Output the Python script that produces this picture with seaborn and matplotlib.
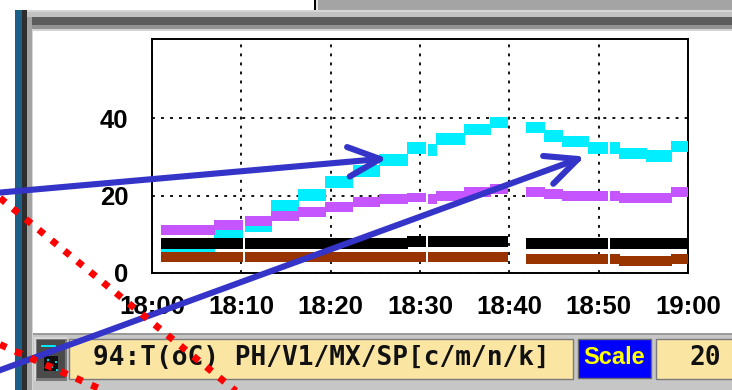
import numpy as np
import pandas as pd
import matplotlib
matplotlib.use("Agg")
import matplotlib.pyplot as plt
from matplotlib.patches import Rectangle
import seaborn as sns

# Step intervals in minutes after 18:00, shared by the four traces
seg_start = [1.1, 7.0, 10.5, 13.4, 16.4, 19.4, 22.5, 25.5, 28.6, 30.9, 31.8, 35.0, 37.9,
             41.9, 43.9, 46.0, 48.9, 51.3, 52.3, 55.3, 58.2]
seg_end = [7.0, 10.1, 13.4, 16.4, 19.4, 22.5, 25.5, 28.6, 30.6, 31.8, 35.0, 37.9, 39.8,
           43.9, 46.0, 48.9, 51.0, 52.3, 55.3, 58.2, 60.0]

# Trace values per interval (T in oC)
ph = [6.5, 9.5, 12.0, 17.4, 20.1, 23.5, 26.3, 29.2, 32.2, 31.8, 34.6, 37.0, 38.9,
      37.5, 35.3, 34.0, 32.2, 32.3, 30.8, 30.2, 32.7]
v1 = [11.1, 12.3, 13.4, 14.6, 15.8, 17.0, 18.4, 19.0, 19.5, 19.1, 19.9, 20.8, 21.6,
      20.9, 20.5, 19.9, 19.9, 19.9, 19.4, 19.4, 20.9]
sp = [7.7, 7.7, 7.7, 7.7, 7.7, 7.7, 7.7, 7.7, 8.1, 8.1, 8.1, 8.1, 8.1,
      7.6, 7.6, 7.6, 7.6, 7.6, 7.6, 7.6, 7.6]
mx = [4.2, 4.2, 4.2, 4.2, 4.2, 4.2, 4.2, 4.2, 4.2, 4.2, 4.2, 4.2, 4.2,
      3.5, 3.5, 3.5, 3.5, 3.5, 3.0, 3.0, 3.5]

x_ticks = [0, 10, 20, 30, 40, 50, 60]
x_tick_labels = ["18:00", "18:10", "18:20", "18:30", "18:40", "18:50", "19:00"]
y_ticks = [0, 20, 40]
y_tick_labels = ["0", "20", "40"]

legend_text = "94:T(oC) PH/V1/MX/SP[c/m/n/k]"
scale_label = "Scale"
scale_value = "20"

# drawing order: cyan under magenta and black
series = [("PH", ph, "#00eeff", 7.6),
          ("V1", v1, "#c455ff", 6.4),
          ("SP", sp, "#000000", 7.0),
          ("MX", mx, "#993300", 6.4)]

rows = []
for name, vals, _, _ in series:
    for i, (t0, t1, v) in enumerate(zip(seg_start, seg_end, vals)):
        rows.append({"trace": name, "seg": i, "t": t0, "v": v})
        rows.append({"trace": name, "seg": i, "t": t1, "v": v})
df = pd.DataFrame(rows)

sns.set_theme(style="white")
plt.rcParams["font.family"] = ["Liberation Sans", "DejaVu Sans"]

W, H = 732, 390
fig = plt.figure(figsize=(W / 100, H / 100), dpi=100)

# ---- window frame and status bar (pixel coordinates, y downward) ----
bg = fig.add_axes([0, 0, 1, 1], label="frame", zorder=0)
bg.set_xlim(0, W)
bg.set_ylim(H, 0)
bg.axis("off")

def box(x0, y0, x1, y1, fc, ec="none", lw=0, z=1):
    bg.add_patch(Rectangle((x0, y0), x1 - x0, y1 - y0, facecolor=fc,
                           edgecolor=ec, linewidth=lw, zorder=z))

box(0, 0, W, H, "white", z=0)
box(317, 0, W, 9.5, "#a4a4a4")
box(316, 0, 317.5, 9.5, "#e4e4e4")
box(314, 0, 316, 9.5, "#000000")
# top frame stripes
box(21, 9.5, W, 12, "#d6d6d6")
box(21, 12, W, 17, "#c2c2c2")
box(21, 17, W, 25, "#5c5c5c")
box(21, 25, W, 28.5, "#929292")
box(27, 28.5, W, 31, "#d2d2d2")
# left frame stripes
box(15, 9.5, 21.7, H, "#1c6088", z=2)
box(21.7, 9.5, 26.7, H, "#2e2e2e", z=2)
box(26.7, 17, 31.5, H, "#a2a2a2", z=2)
box(31.5, 28.5, 33, H, "#d6d6d6", z=2)
# status bar
box(33, 333, W, H, "#c6c6c6")
box(33, 333, W, 335, "#9a9a9a")
# button with icon
box(33.5, 337, 67, 381, "#d8d8d8")
box(35.5, 339, 67, 381, "#7a7a7a")
box(36.5, 340, 64.5, 378, "#4a4a4a")
box(41, 344.5, 56, 347, "#00e6ff")
box(44, 356, 58, 371, "#101010")
for cx, cy in [(47, 359), (55, 361), (51, 366), (56, 369)]:
    box(cx, cy, cx + 2, cy + 2, "#00d0e0")
# text fields
box(68.5, 338.5, 572.5, 378.5, "#fbe5a3", ec="#7a7a7a", lw=1.0)
box(577.5, 339, 651, 377.5, "#0000ff", ec="#6a6a6a", lw=1.0)
box(656, 338.5, W + 2, 378.5, "#fbe5a3", ec="#7a7a7a", lw=1.0)
bg.text(93, 358, legend_text, ha="left", va="center", color="#111111",
        fontfamily="DejaVu Sans Mono", fontweight="bold", fontsize=18.8, zorder=5)
bg.text(614, 357.5, scale_label, ha="center", va="center", color="#ffff00",
        fontfamily="Liberation Sans", fontweight="bold", fontsize=17, zorder=5)
bg.text(721, 358, scale_value, ha="right", va="center", color="#111111",
        fontfamily="DejaVu Sans Mono", fontweight="bold", fontsize=18.8, zorder=5)

# ---- trend chart ----
ax = fig.add_axes([152 / W, (H - 273) / H, 536 / W, 234 / H], label="chart", zorder=1)
ax.set_facecolor("white")
for name, _, color, lw in series:
    sns.lineplot(data=df[df["trace"] == name], x="t", y="v", units="seg",
                 estimator=None, color=color, linewidth=lw,
                 solid_capstyle="butt", antialiased=False, snap=False,
                 legend=False, ax=ax, zorder=3)

ax.set_xlim(0, 60)
ax.set_ylim(0, 60.4)
ax.set_xticks(x_ticks)
ax.set_xticklabels(x_tick_labels)
ax.set_yticks(y_ticks)
ax.set_yticklabels(y_tick_labels)
ax.set_xlabel("")
ax.set_ylabel("")
ax.grid(True, color="black", linestyle=(0, (1.6, 3.4)), linewidth=1.3, zorder=1)
ax.set_axisbelow(True)
for s in ax.spines.values():
    s.set_visible(True)
    s.set_color("black")
    s.set_linewidth(1.4)
ax.tick_params(axis="both", direction="out", length=11, width=1.4, color="black",
               labelsize=18.5, labelcolor="black")
ax.tick_params(axis="y", pad=6)
ax.tick_params(axis="x", pad=5)
for lab in ax.get_xticklabels() + ax.get_yticklabels():
    lab.set_fontweight("bold")

# ---- annotation overlay ----
ov = fig.add_axes([0, 0, 1, 1], label="overlay", zorder=5)
ov.set_xlim(0, W)
ov.set_ylim(H, 0)
ov.axis("off")
ov.patch.set_alpha(0)

def arrow(x0, y0, x1, y1, head=35, ang=25):
    kw = dict(color="#3434c8", linewidth=4.4, solid_capstyle="round")
    ov.plot([x0, x1], [y0, y1], **kw)
    th = np.arctan2(y0 - y1, x0 - x1)
    for d in (np.radians(ang), -np.radians(ang)):
        ov.plot([x1, x1 + head * np.cos(th + d)], [y1, y1 + head * np.sin(th + d)], **kw)

ov.plot([0, 237], [198, 392], color="#ff0000", linewidth=5,
        linestyle=(0, (1, 1.4)), dash_capstyle="butt", zorder=6)
ov.plot([0, 107], [344.5, 392], color="#ff0000", linewidth=5,
        linestyle=(0, (1, 1.4)), dash_capstyle="butt", zorder=6)
arrow(-5, 193, 380, 159)
arrow(-5, 372, 578, 159)

fig.savefig("out.png", dpi=100)
